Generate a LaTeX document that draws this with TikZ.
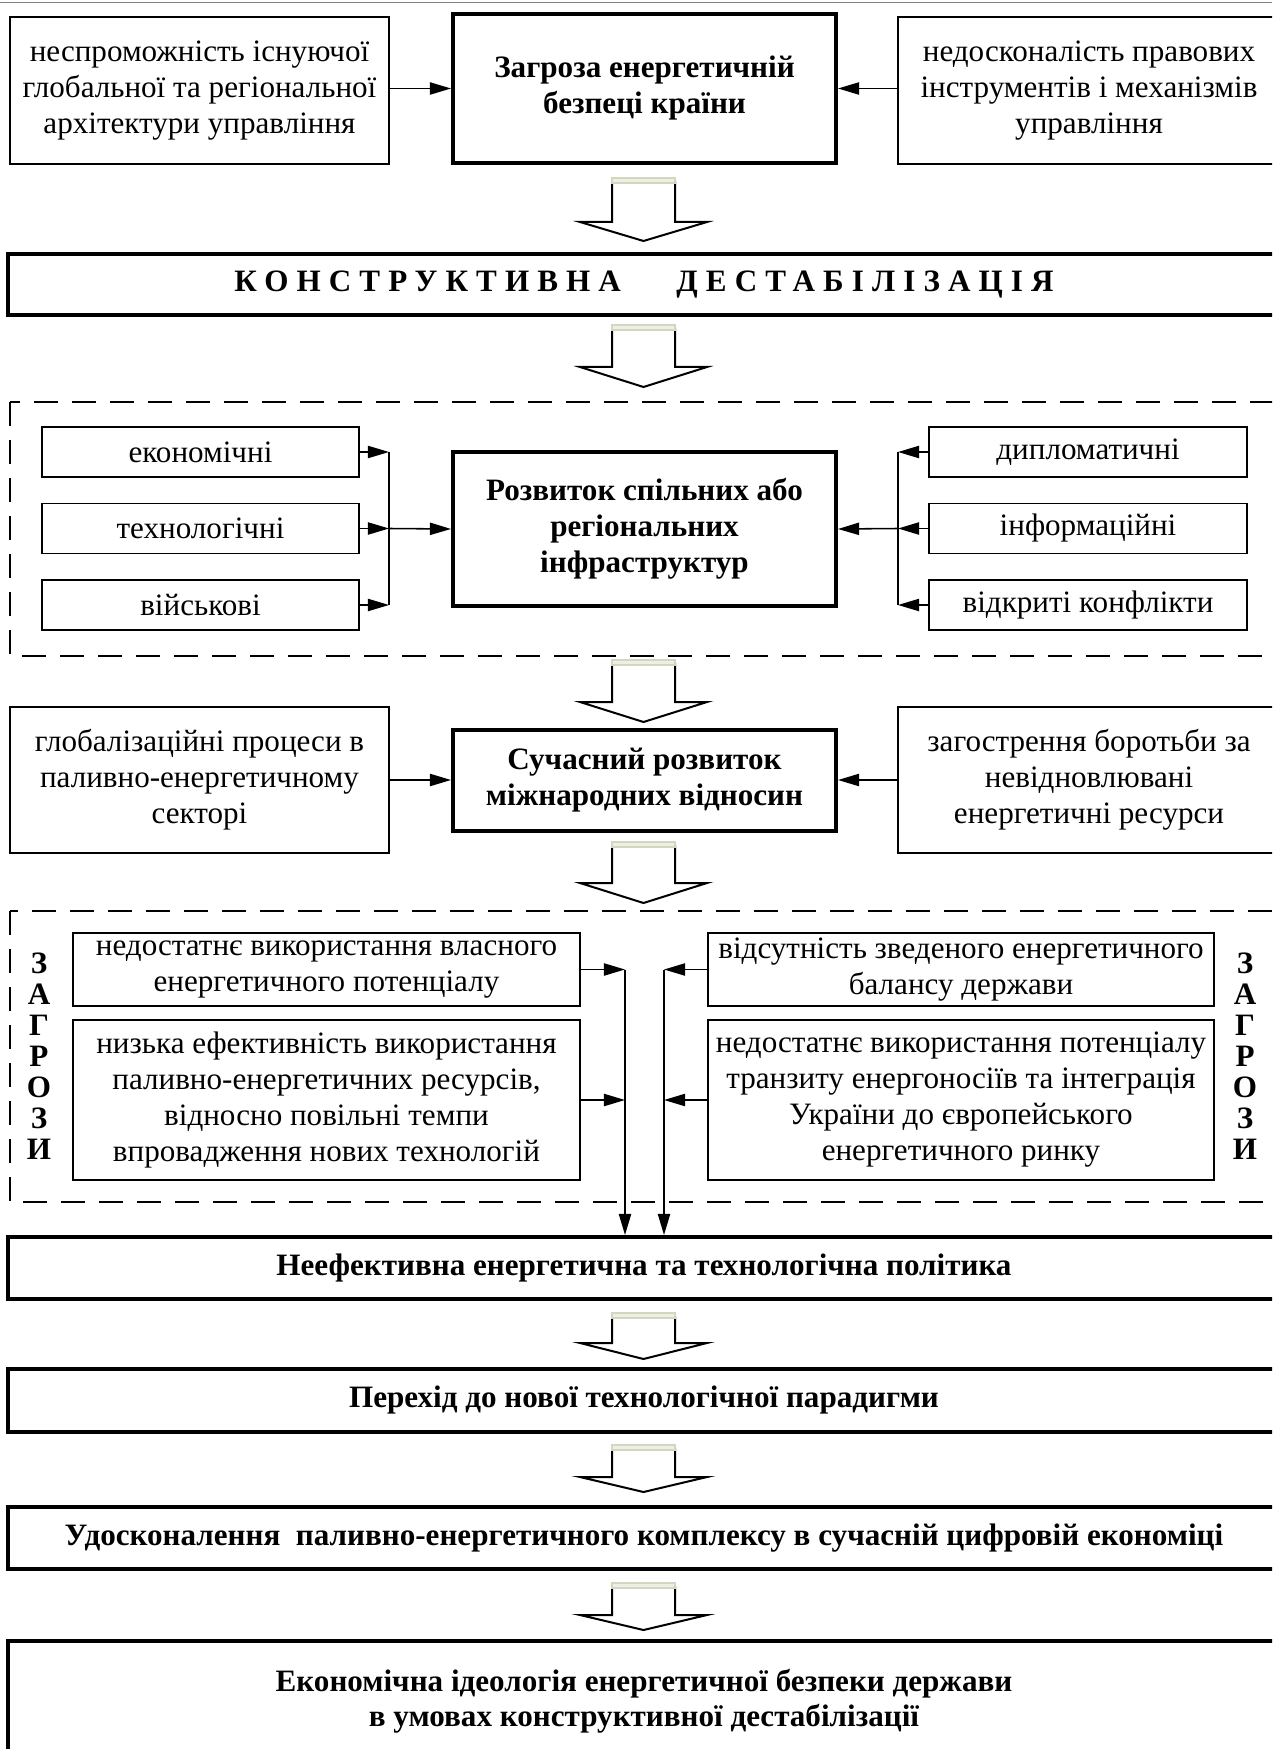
\documentclass[tikz,border=0pt]{standalone}
\usepackage{fontspec}
\setmainfont{Liberation Serif}
\usepackage{tikz}
\usetikzlibrary{arrows.meta}
\usetikzlibrary{positioning}
\usetikzlibrary{calc}
\definecolor{pale}{HTML}{D3D7BF}
\tikzstyle{box}=[draw,rectangle,line width=0.6pt,align=center,inner sep=0pt,font=\fontsize{14pt}{16.2pt}\selectfont]
\tikzstyle{main}=[box,line width=1.8pt,font=\fontsize{14pt}{16.2pt}\selectfont\bfseries]
\tikzstyle{con}=[line width=0.7pt,-{Triangle[length=9.5pt,width=5.5pt]}]
\tikzstyle{frame}=[line width=0.7pt,dash pattern=on 10.8pt off 6.3pt]
\newcommand{\bigarrow}[3]{%
  \draw[line width=0.9pt,line join=miter] (612,#1+3) -- (612,#2) -- (580,#2) -- (643.5,#3) -- (707,#2) -- (675,#2) -- (675,#1+3);
  \draw[pale,fill=pale!40,line width=0.8pt] (612,#1) rectangle (675,#1+5);
}

\begin{document}
\begin{tikzpicture}[x=0.45pt,y=-0.45pt,wh/.style 2 args={minimum width=#1*0.45pt,minimum height=#2*0.45pt}]
\useasboundingbox (0,0) rectangle (1272,1749);
\clip (0,0) rectangle (1272,1749);
\draw[gray,line width=0.6pt] (0,2.5) -- (1272,2.5);

\node [main,wh={383}{149}] (t) at (644.5,88.5) {Загроза енергетичній\\безпеці країни};
\node [box,wh={379}{147}] (l1) at (199.5,90.5) {неспроможність існуючої\\глобальної та регіональної\\архітектури управління};
\node [box,wh={382}{147}] (r1) at (1089,90.5) {недосконалість правових\\інструментів і механізмів\\управління};
\draw[con] (l1.east |- t) -- (t);
\draw[con] (r1.west |- t) -- (t);
\bigarrow{178}{222}{241}

\node [main,wh={1272}{61}] (k) at (644,284.5) {\addfontfeature{LetterSpace=26}КОНСТРУКТИВНА\hspace{25pt}ДЕСТАБІЛІЗАЦІЯ};
\bigarrow{325}{367}{387}

\draw[frame] (10,402) rectangle (1300,656);
\node [box,wh={317}{50}] (e1) at (200.5,452) {економічні};
\node [box,wh={317}{50}] (e2) at (200.5,528.5) {технологічні};
\node [box,wh={317}{50}] (e3) at (200.5,605) {військові};
\node [main,wh={383}{154}] (c2) at (644.5,529) {Розвиток спільних або\\регіональних\\інфраструктур};
\node [box,wh={318}{50}] (p1) at (1088,452) {дипломатичні};
\node [box,wh={318}{50}] (p2) at (1088,528.5) {інформаційні};
\node [box,wh={318}{50}] (p3) at (1088,605) {відкриті конфлікти};
\coordinate (bl) at (389,528.5);
\coordinate (br) at (898,528.5);
\foreach \i in {e1,e2,e3} \draw[con] (\i.east) -- (\i.east -| bl);
\foreach \i in {p1,p2,p3} \draw[con] (\i.west) -- (\i.west -| br);
\draw[line width=0.7pt] (e1.east -| bl) -- (e3.east -| bl);
\draw[line width=0.7pt] (p1.west -| br) -- (p3.west -| br);
\draw[con] (bl) -- (c2.west);
\draw[con] (br) -- (c2.east);
\bigarrow{660}{702}{722}

\node [box,wh={379}{146}] (l4) at (199.5,780) {глобалізаційні процеси в\\паливно-енергетичному\\секторі};
\node [main,wh={383}{101}] (c4) at (644.5,780) {Сучасний розвиток\\міжнародних відносин};
\node [box,wh={382}{146}] (r4) at (1089,780) {загострення боротьби за\\невідновлювані\\енергетичні ресурси};
\draw[con] (l4) -- (c4);
\draw[con] (r4) -- (c4);
\bigarrow{842}{883}{903}

\draw[frame] (10,911) rectangle (1300,1202);
\node [font=\fontsize{14pt}{13.95pt}\selectfont\bfseries,align=center,inner sep=0pt] (zl) at (39,1056) {З\\А\\Г\\Р\\О\\З\\И};
\node [font=\fontsize{14pt}{13.95pt}\selectfont\bfseries,align=center,inner sep=0pt] (zr) at (1245,1056) {З\\А\\Г\\Р\\О\\З\\И};
\node [box,wh={507}{73}] (la) at (326.5,969.5) {недостатнє використання власного\\енергетичного потенціалу};
\node [box,wh={507}{160}] (lb) at (326.5,1100) {низька ефективність використання\\паливно-енергетичних ресурсів,\\відносно повільні темпи\\впровадження нових технологій};
\node [box,wh={506}{73}] (ra) at (961,969.5) {відсутність зведеного енергетичного\\балансу держави};
\node [box,wh={506}{160}] (rb) at (961,1100) {недостатнє використання потенціалу\\транзиту енергоносіїв та інтеграція\\України до європейського\\енергетичного ринку};
\node [main,wh={1272}{62}] (n1) at (644,1268) {Неефективна енергетична та технологічна політика};
\coordinate (vl) at (625,969.5);
\coordinate (vr) at (664,969.5);
\draw[con] (la.east) -- (la.east -| vl);
\draw[con] (lb.east) -- (lb.east -| vl);
\draw[con] (ra.west) -- (ra.west -| vr);
\draw[con] (rb.west) -- (rb.west -| vr);
\draw[con] (vl) -- (n1.north -| vl);
\draw[con] (vr) -- (n1.north -| vr);
\bigarrow{1313}{1343}{1359}

\node [main,wh={1272}{63}] (n2) at (644,1400.5) {Перехід до нової технологічної парадигми};
\bigarrow{1445}{1477}{1492}

\node [main,wh={1272}{62}] (n3) at (644,1538) {Удосконалення\ \ паливно-енергетичного комплексу в сучасній цифровій економіці};
\bigarrow{1583}{1615}{1630}

\node [main,wh={1272}{120},font=\fontsize{14pt}{15.75pt}\selectfont\bfseries] (n4) at (644,1701) {Економічна ідеологія енергетичної безпеки держави\\в умовах конструктивної дестабілізації};
\end{tikzpicture}
\end{document}
